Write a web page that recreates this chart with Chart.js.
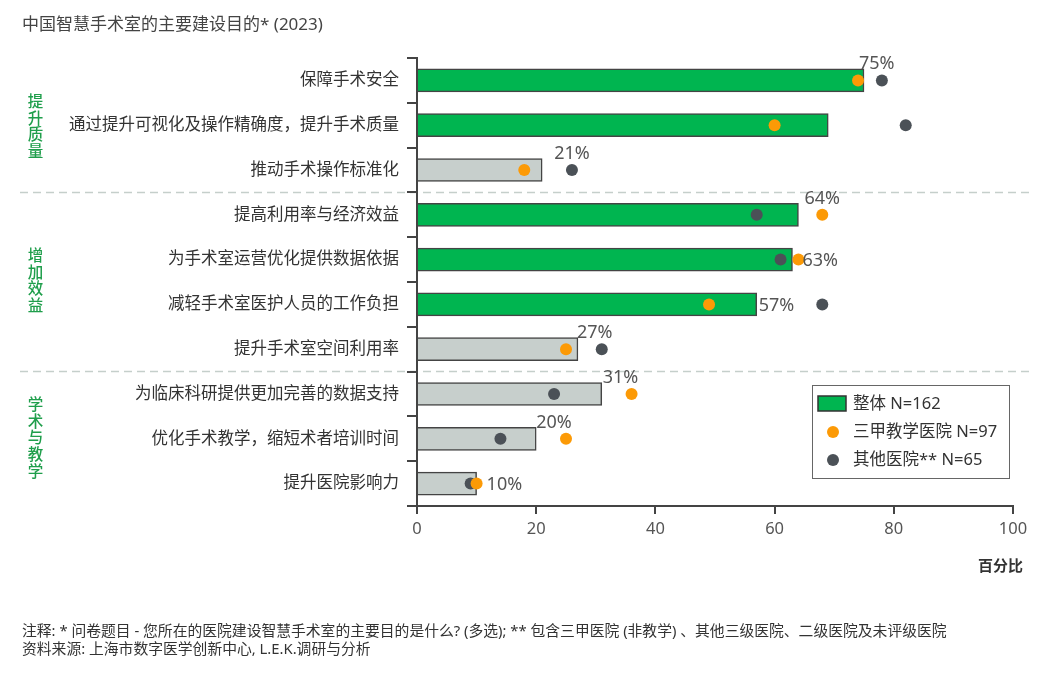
<!DOCTYPE html>
<html><head><meta charset="utf-8">
<script src="https://cdn.jsdelivr.net/npm/chart.js@4.4.1/dist/chart.umd.min.js"></script>
<style>
body{margin:0;background:#fff;font-family:"Noto Sans","Noto Sans CJK SC",sans-serif;}
#wrap{position:relative;width:1055px;height:677px;overflow:hidden;}
#wrap canvas{position:absolute;left:0;top:0;}
.t{position:absolute;white-space:nowrap;color:#333;}
.g{position:absolute;color:#1f9e4b;font-size:15.5px;font-weight:500;line-height:16.7px;width:17px;text-align:center;}
.g span{display:block;height:16.7px;}
</style></head>
<body>
<div id="wrap">
<canvas id="c" width="1055" height="677"></canvas>
<div class="t" style="left:22px;top:10px;font-size:17px;color:#444;">中国智慧手术室的主要建设目的* (2023)</div>
<div class="g" id="g0" style="left:27px;top:93px;"></div>
<div class="g" id="g1" style="left:27px;top:247px;"></div>
<div class="g" id="g2" style="left:27px;top:396px;"></div>
<div class="t" style="right:32px;top:554px;font-size:15px;font-weight:bold;color:#333;">百分比</div>
<div class="t" style="left:22px;top:619px;font-size:14.8px;color:#333;">注释: * 问卷题目 - 您所在的医院建设智慧手术室的主要目的是什么? (多选); ** 包含三甲医院 (非教学) 、其他三级医院、二级医院及未评级医院</div>
<div class="t" style="left:22px;top:637px;font-size:14.8px;color:#333;">资料来源: 上海市数字医学创新中心, L.E.K.调研与分析</div>
</div>
<script>
const categories = [
  "保障手术安全",
  "通过提升可视化及操作精确度，提升手术质量",
  "推动手术操作标准化",
  "提高利用率与经济效益",
  "为手术室运营优化提供数据依据",
  "减轻手术室医护人员的工作负担",
  "提升手术室空间利用率",
  "为临床科研提供更加完善的数据支持",
  "优化手术教学，缩短术者培训时间",
  "提升医院影响力"
];
const overall = [75, 69, 21, 64, 63, 57, 27, 31, 20, 10];
const tier3Teaching = [74, 60, 18, 68, 64, 49, 25, 36, 25, 10];
const otherHospitals = [78, 82, 26, 57, 61, 68, 31, 23, 14, 9];
const valueLabels = ["75%", "", "21%", "64%", "63%", "57%", "27%", "31%", "20%", "10%"];
const groups = ["提升质量", "增加效益", "学术与教学"];
const groupStarts = [0, 3, 7];
const seriesNames = ["整体 N=162", "三甲教学医院 N=97", "其他医院** N=65"];
const xTicks = [0, 20, 40, 60, 80, 100];

// style (not data)
const GREEN = '#00b550', GREYBAR = '#c7cfcc', ORANGE = '#fc9a06', DARK = '#4b5157';
const labelMode = ['above','none','above','above','right','right','above','above','above','right'];
const labelDx = [-5, 0, 12, 6, 10, 2, -1, 1, 0, 10];
const FONT = '"Noto Sans", "Noto Sans CJK SC", sans-serif';

groups.forEach((g,i)=>{
  document.getElementById('g'+i).innerHTML = [...g].map(ch=>'<span>'+ch+'</span>').join('');
});

const decor = {
  id:'decor',
  beforeDraw(chart){
    const {ctx, scales:{y}} = chart;
    ctx.save();
    ctx.strokeStyle = '#c5cfcb'; ctx.lineWidth = 1.5; ctx.setLineDash([8,5]);
    groupStarts.slice(1).forEach(s=>{
      const yy = (y.getPixelForValue(s-1) + y.getPixelForValue(s))/2;
      ctx.beginPath(); ctx.moveTo(20, yy); ctx.lineTo(1030, yy); ctx.stroke();
    });
    ctx.restore();
  },
  afterDatasetsDraw(chart){
    const {ctx, scales:{x,y}} = chart;
    ctx.save();
    ctx.font = '18px ' + FONT;
    ctx.fillStyle = '#555';
    ctx.textAlign = 'left';
    overall.forEach((v,i)=>{
      if (labelMode[i] === 'none' || !valueLabels[i]) return;
      const px = x.getPixelForValue(v) + labelDx[i];
      const py = y.getPixelForValue(i);
      if (labelMode[i] === 'above') {
        ctx.textBaseline = 'alphabetic';
        ctx.fillText(valueLabels[i], px, py - 11);
      } else {
        ctx.textBaseline = 'middle';
        ctx.fillText(valueLabels[i], px, py + 1);
      }
    });
    // legend
    const bx = 812, by = 385, bw = 197, bh = 93;
    ctx.fillStyle = '#fff';
    ctx.fillRect(bx, by, bw, bh);
    ctx.strokeStyle = '#666'; ctx.lineWidth = 1;
    ctx.strokeRect(bx+0.5, by+0.5, bw, bh);
    ctx.fillStyle = GREEN; ctx.fillRect(818, 396, 28, 15);
    ctx.strokeStyle = '#333'; ctx.lineWidth = 1.5; ctx.strokeRect(818, 396, 28, 15);
    ctx.fillStyle = ORANGE; ctx.beginPath(); ctx.arc(833, 432, 6, 0, Math.PI*2); ctx.fill();
    ctx.fillStyle = DARK; ctx.beginPath(); ctx.arc(833, 460, 6, 0, Math.PI*2); ctx.fill();
    ctx.fillStyle = '#333'; ctx.font = '16.5px ' + FONT; ctx.textBaseline = 'middle';
    ctx.fillText(seriesNames[0], 853, 404);
    ctx.fillText(seriesNames[1], 853, 432);
    ctx.fillText(seriesNames[2], 853, 460);
    ctx.restore();
  }
};

new Chart(document.getElementById('c'), {
  type: 'bar',
  data: {
    labels: categories,
    datasets: [
      {
        type: 'line', label: seriesNames[1], data: tier3Teaching, showLine: false,
        pointRadius: 6, pointHoverRadius: 6, pointBackgroundColor: ORANGE, pointBorderWidth: 0,
        borderColor: ORANGE, order: 0
      },
      {
        type: 'line', label: seriesNames[2], data: otherHospitals, showLine: false,
        pointRadius: 6, pointHoverRadius: 6, pointBackgroundColor: DARK, pointBorderWidth: 0,
        borderColor: DARK, order: 1
      },
      {
        label: seriesNames[0], data: overall,
        backgroundColor: overall.map(v => v >= 50 ? GREEN : GREYBAR),
        borderColor: '#444', borderWidth: 1.5, barThickness: 23, order: 2
      }
    ]
  },
  options: {
    indexAxis: 'y',
    responsive: false,
    animation: false,
    layout: { padding: { top: 58, right: 42, left: 0, bottom: 131 } },
    plugins: { legend: { display: false }, tooltip: { enabled: false } },
    scales: {
      x: {
        min: 0, max: 100,
        afterBuildTicks(scale){ scale.ticks = xTicks.map(v=>({value:v})); },
        afterFit(scale){ scale.height = 40; },
        grid: { drawOnChartArea: false, tickLength: 8, color: '#444', lineWidth: 2 },
        border: { display: true, color: '#444', width: 2 },
        ticks: { color: '#555', font: { size: 16.5, family: FONT }, padding: 5, maxRotation: 0 }
      },
      y: {
        afterFit(scale){ scale.width = 417; },
        grid: { drawOnChartArea: false, tickLength: 10, color: '#444', lineWidth: 2, offset: true },
        border: { display: true, color: '#444', width: 2 },
        ticks: { color: '#333', font: { size: 16.5, family: FONT }, padding: 8, autoSkip: false }
      }
    }
  },
  plugins: [decor]
});
</script>
</body></html>
